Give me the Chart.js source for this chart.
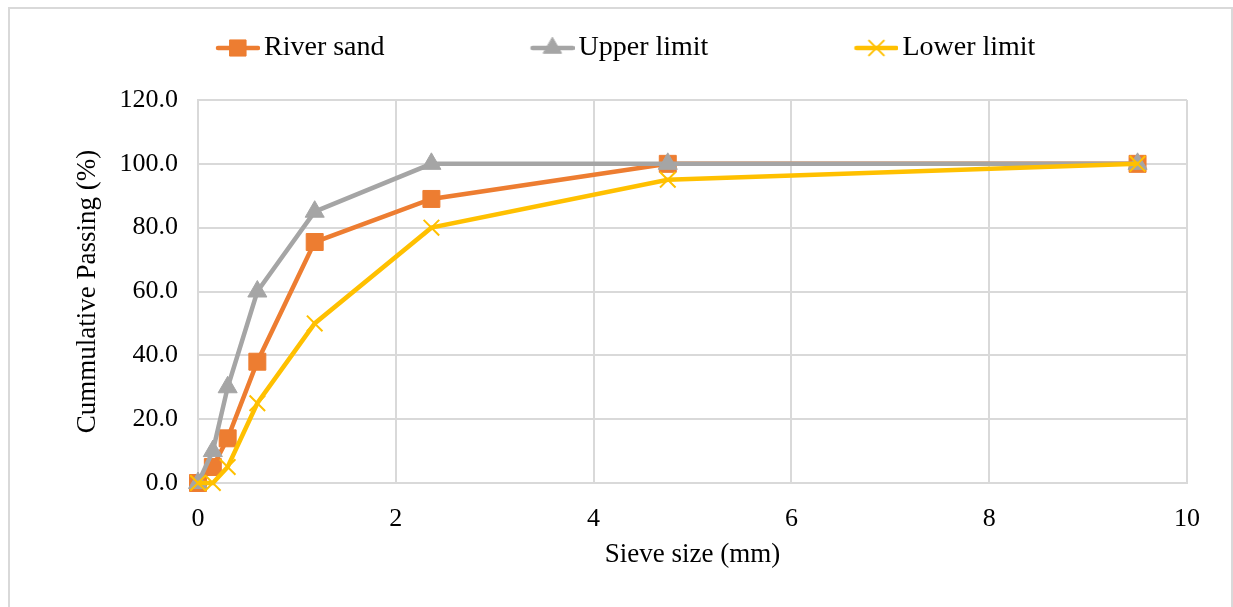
<!DOCTYPE html>
<html lang="en">
<head>
<meta charset="UTF-8">
<title>Sieve analysis</title>
<style>
  body{margin:0;background:#fff}
  #wrap{position:relative;width:1233px;height:607px;overflow:hidden;background:#fff}
  #frame{position:absolute;left:8px;top:7px;width:1221px;height:700px;border:2px solid #d9d9d9}
  canvas{position:absolute;left:0;top:0}
</style>
</head>
<body>
<div id="wrap">
  <div id="frame"></div>
  <canvas id="chart" width="1233" height="607"></canvas>
</div>
<script src="https://cdn.jsdelivr.net/npm/chart.js"></script>
<script>
// sieve sizes (mm) and cumulative passing (%)
const sieveSizes = [0, 0.15, 0.3, 0.6, 1.18, 2.36, 4.75, 9.5]
const riverSand  = [0, 5, 14, 38, 75.5, 89, 100, 100]
const upperLimit = [0, 10, 30, 60, 85, 100, 100, 100]
const lowerLimit = [0, 0, 5, 25, 50, 80, 95, 100]

const seriesNames = ['River sand', 'Upper limit', 'Lower limit']
const xTickMax = 10
const yTickMax = 120

const serif = 'Liberation Serif'
const gridCol = '#d9d9d9'

const styles = [
  {color:'#ED7D31', pointStyle:'rect', radius:12, borderWidth:1, order:3},
  {color:'#A5A5A5', pointStyle:'triangle', radius:11, borderWidth:1, order:2},
  {color:'#FFC000', pointStyle:'crossRot', radius:11, borderWidth:2, order:1}
]

function toPoints(ys){ return sieveSizes.map((x,i)=>({x:x, y:ys[i]})) }

// legend swatch: line + marker, left part transparent to space the items
const BOX = 146
function swatch(st){
  const c = document.createElement('canvas')
  c.width = BOX + 20
  c.height = 28
  const g = c.getContext('2d')
  g.strokeStyle = st.color
  g.fillStyle = st.color
  g.lineWidth = 4.5
  g.lineCap = 'round'
  g.beginPath()
  g.moveTo(c.width - 42, 14)
  g.lineTo(c.width - 2, 14)
  g.stroke()
  g.lineWidth = st.borderWidth
  Chart.helpers.drawPoint(g, {pointStyle:st.pointStyle, radius:st.radius*0.95, rotation:0, borderWidth:st.borderWidth}, c.width - 22, 14)
  return c
}

const datasets = [riverSand, upperLimit, lowerLimit].map((ys,i)=>({
  label: seriesNames[i],
  data: toPoints(ys),
  borderColor: styles[i].color,
  backgroundColor: styles[i].color,
  pointBackgroundColor: styles[i].color,
  pointBorderColor: styles[i].color,
  pointStyle: styles[i].pointStyle,
  pointRadius: styles[i].radius,
  pointBorderWidth: styles[i].borderWidth,
  borderWidth: 4.5,
  tension: 0,
  fill: false,
  clip: false,
  order: styles[i].order
}))

new Chart(document.getElementById('chart'), {
  type: 'line',
  data: {datasets: datasets},
  options: {
    responsive: false,
    animation: false,
    layout: {padding: {left:70, right:46, top:0, bottom:0}},
    plugins: {
      tooltip: {enabled:false},
      legend: {
        position: 'top',
        align: 'start',
        labels: {
          usePointStyle: true,
          pointStyleWidth: BOX,
          padding: 34,
          color: '#000',
          font: {family: serif, size: 28},
          generateLabels: (chart) => chart.data.datasets.map((ds,i)=>({
            text: ds.label,
            pointStyle: swatch(styles[i]),
            fillStyle: ds.borderColor,
            strokeStyle: ds.borderColor,
            lineWidth: 0,
            fontColor: '#000',
            hidden: false,
            datasetIndex: i
          }))
        }
      },
      // empty title used as spacer between legend and plot
      title: {display: true, text: '', weight: 500, padding: {top:0, bottom:16}, font: {size: 10}}
    },
    scales: {
      x: {
        type: 'linear',
        min: 0, max: xTickMax,
        ticks: {stepSize: 2, color:'#000', padding: 21, font:{family: serif, size: 26}},
        grid: {color: gridCol, lineWidth: 2, drawTicks: false},
        border: {color: gridCol, width: 2},
        title: {display: true, text: 'Sieve size (mm)', color:'#000', font:{family: serif, size: 27}, padding:{top:0, bottom:36}},
        afterFit: (s) => { s.height = 124 }
      },
      y: {
        min: 0, max: yTickMax,
        ticks: {stepSize: 20, color:'#000', padding: 20, font:{family: serif, size: 26}, callback: (v) => v.toFixed(1)},
        grid: {color: gridCol, lineWidth: 2, drawTicks: false},
        border: {color: gridCol, width: 2},
        title: {display: true, text: 'Cummulative Passing (%)', color:'#000', font:{family: serif, size: 27}, padding:{top:2, bottom:0}},
        afterFit: (s) => { s.width = 128 }
      }
    }
  }
})
</script>
</body>
</html>
